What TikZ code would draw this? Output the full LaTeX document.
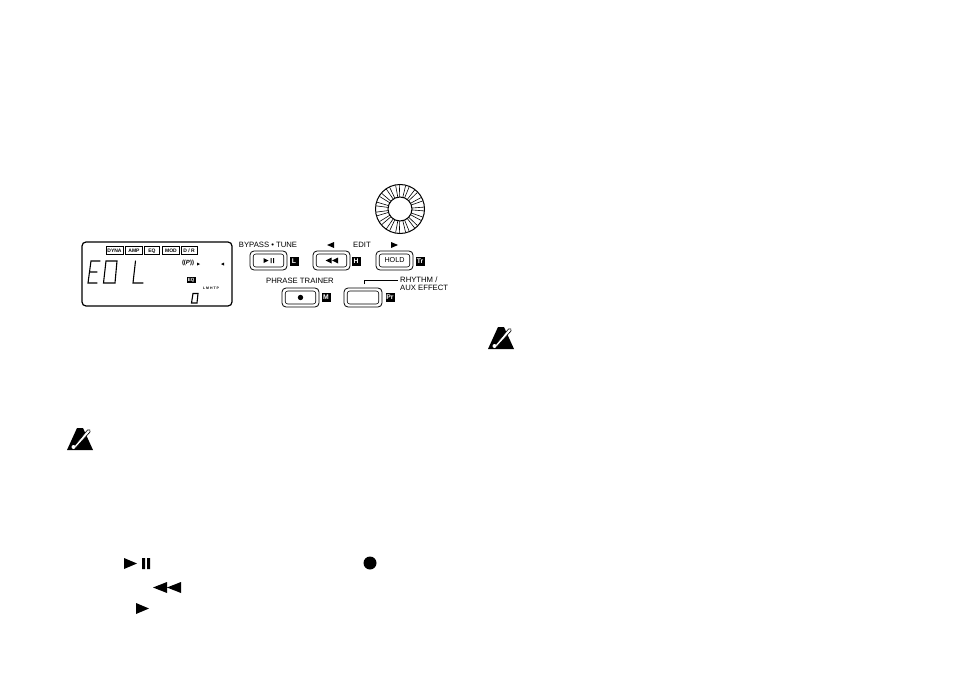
\documentclass[tikz,border=0pt]{standalone}
\usepackage{fontspec}
\setmainfont{Liberation Sans}
\tikzset{
  panelkey/.style={draw,line width=0.6pt,rounded corners=2.5pt,minimum width=30.5pt,minimum height=13pt,inner sep=0pt,font=\fontsize{7.2}{8}\selectfont},
  keyframe/.style={draw,line width=0.8pt,rounded corners=4pt,inner sep=0pt},
  keybadge/.style={fill=black,text=white,inner sep=0pt,minimum width=9pt,minimum height=9pt,font=\fontsize{6.8}{6.8}\selectfont\bfseries},
  keylabel/.style={inner sep=0pt,font=\fontsize{7.7}{8}\selectfont},
  menutab/.style={draw,line width=0.8pt,inner sep=0pt,minimum height=7.5pt,text height=3.6pt,text depth=0pt,font=\fontsize{5}{5}\selectfont\bfseries},
  segline/.style={line width=1.1pt,line cap=round},
  warnmark/.pic={
    \fill (-13,10.5) -- (-3,-11.5) -- (3,-11.5) -- (13,10.5) -- cycle;
    \draw[line width=0.6pt,fill=white] (-6,7) -- (7.5,-9.5) .. controls (9,-11) and (11.5,-9) .. (10,-7.5) -- (-4,8) -- cycle;
    \fill[white] (-6.5,7.5) circle (2pt);
  }
}
\begin{document}
\begin{tikzpicture}[x=1pt,y=-1pt]
\useasboundingbox (0,0) rectangle (954,677);
\draw[line width=1.2pt,rounded corners=4pt] (82,242) rectangle (232,306);
\node[menutab,minimum width=17pt] (dyna) at (114.5,250.5) {DYNA};
\node[menutab,minimum width=17pt] (amp) at (134,250.5) {AMP};
\node[menutab,minimum width=15.5pt] (eqtab) at (152,250.5) {EQ};
\node[menutab,minimum width=17.5pt] (mod) at (171,250.5) {MOD};
\node[menutab,minimum width=16pt] (dr) at (189,250.5) {D / R};
\draw[segline] (100,261) -- (91,261) -- (88,283) -- (97,283) (90,272) -- (97,272);
\draw[segline] (106,261) -- (117,261) -- (115,283) -- (103.5,283) -- cycle;
\draw[segline] (135.5,261) -- (133,283) -- (143,283);
\draw[segline] (193,293.5) -- (198,293.5) -- (197,303) -- (191.5,303) -- cycle;
\node[inner sep=0pt,font=\fontsize{6}{6}\selectfont\bfseries] (wave) at (188,263) {((\textit{P}))};
\fill (197,262.5) -- (200,264) -- (197,265.5) -- cycle;
\fill (224,262.5) -- (221,264) -- (224,265.5) -- cycle;
\node[keybadge,minimum width=9pt,minimum height=6.5pt,font=\fontsize{4.5}{4.5}\selectfont\bfseries] (eqflag) at (191,280) {EQ};
\node[inner sep=0pt,font=\fontsize{3.5}{3.5}\selectfont\bfseries] (levels) at (211,288) {L M H T P};
\foreach \a in {0,24,...,336}
  \draw[line width=0.6pt] ({400+12*cos(\a-4.5)},{209+12*sin(\a-4.5)}) -- ({400+24*cos(\a-4.5)},{209+24*sin(\a-4.5)})
    ({400+12*cos(\a+4.5)},{209+12*sin(\a+4.5)}) -- ({400+24*cos(\a+4.5)},{209+24*sin(\a+4.5)});
\draw[line width=1pt] (400,209) circle (24.5);
\draw[line width=1pt,fill=white] (400,209) circle (12);
\draw[keyframe] (250,251) rectangle (287,270);
\draw[keyframe] (313,251) rectangle (350,270);
\draw[keyframe] (376,251) rectangle (413,270);
\draw[keyframe] (282,288) rectangle (319,307);
\draw[keyframe] (344,288) rectangle (382,307);
\node[panelkey] (playkey) at (268.5,260.5) {};
\node[panelkey] (rewkey) at (331.5,260.5) {};
\node[panelkey] (holdkey) at (394.5,260.5) {HOLD};
\node[panelkey] (reckey) at (300.5,297.5) {};
\node[panelkey,minimum width=31.5pt] (blankkey) at (363,297.5) {};
\fill (263.5,258) -- (268.5,260.5) -- (263.5,263) -- cycle (270.5,258) rectangle (271.5,263) (273,258) rectangle (274,263);
\fill (331.5,257.5) -- (325.5,260.5) -- (331.5,263.5) -- cycle (338,257.5) -- (332,260.5) -- (338,263.5) -- cycle;
\fill (300.5,297.5) circle (2.7);
\node[keybadge] (badgel) at (294,261) {L};
\node[keybadge] (badgeh) at (356,261) {H};
\node[keybadge] (badgetr) at (420,261) {Tr};
\node[keybadge] (badgem) at (326,297.5) {M};
\node[keybadge] (badgepr) at (390,297.5) {Pr};
\node[keylabel] (bypass) at (268,245) {BYPASS • TUNE};
\node[keylabel] (edit) at (362,245) {EDIT};
\fill (327,245) -- (334,242) -- (334,248) -- cycle;
\fill (398,245) -- (391,242) -- (391,248) -- cycle;
\node[keylabel] (phrase) at (300,281) {PHRASE TRAINER};
\node[keylabel,anchor=north west,align=left] (rhythm) at (400,277) {RHYTHM /\\AUX EFFECT};
\coordinate (rhythmdrop) at (364,284);
\draw[line width=0.6pt] (rhythmdrop) -- (364,280) -- (398,280);
\pic at (80,439.5) {warnmark};
\pic at (501,338.5) {warnmark};
\fill (124,558) -- (137,563.5) -- (124,569) -- cycle (142,558) rectangle (145,569) (147,558) rectangle (150,569);
\fill (370,563) circle (6.5);
\fill (167,582) -- (153,587.5) -- (167,593) -- cycle (181,582) -- (167,587.5) -- (181,593) -- cycle;
\fill (136,603) -- (149,608.5) -- (136,614) -- cycle;
\end{tikzpicture}
\end{document}
